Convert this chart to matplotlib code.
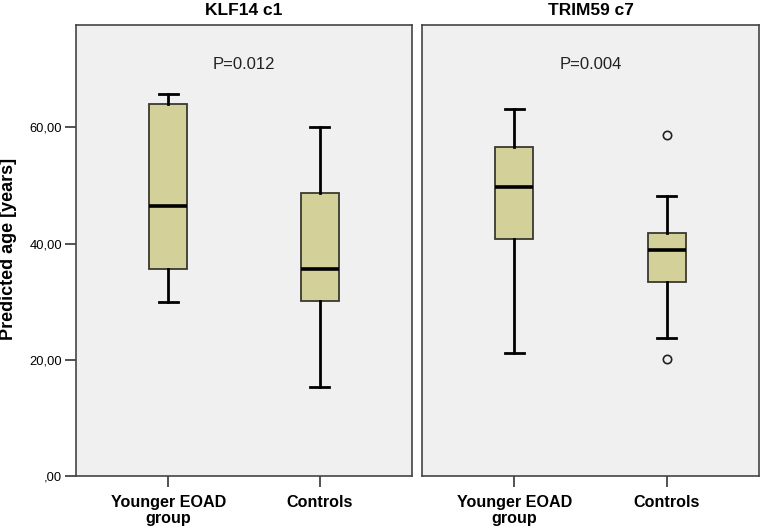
import matplotlib
matplotlib.use("Agg")
import matplotlib.pyplot as plt

plt.rcParams['font.family'] = ['Liberation Sans', 'DejaVu Sans']

panels = ["KLF14 c1", "TRIM59 c7"]
p_values = ["P=0.012", "P=0.004"]
groups = ["Younger EOAD\ngroup", "Controls"]

# per panel: [Younger EOAD, Controls]
whislo = [[30.0, 15.3], [21.1, 23.7]]
q1 = [[35.6, 30.1], [40.8, 33.3]]
med = [[46.5, 35.7], [49.8, 38.9]]
q3 = [[64.0, 48.7], [56.6, 41.8]]
whishi = [[65.7, 60.1], [63.2, 48.1]]
fliers = [[[], []], [[], [58.6, 20.1]]]

yticks = [0, 20, 40, 60]
ytick_labels = [",00", "20,00", "40,00", "60,00"]

fig = plt.figure(figsize=(7.61, 5.26), dpi=100)
fig.patch.set_facecolor("white")
axes = [fig.add_axes([0.0999, 0.0951, 0.4415, 0.8583]),
        fig.add_axes([0.5545, 0.0951, 0.4428, 0.8583])]

box_fill = "#D4D09A"
for i, ax in enumerate(axes):
    ax.set_facecolor("#F0F0F0")
    stats = []
    for j in range(2):
        stats.append(dict(med=med[i][j], q1=q1[i][j], q3=q3[i][j],
                          whislo=whislo[i][j], whishi=whishi[i][j],
                          fliers=fliers[i][j]))
    ax.bxp(stats, positions=[1, 2], widths=0.25, patch_artist=True,
           boxprops=dict(facecolor=box_fill, edgecolor="#3a3a30", linewidth=1.3),
           medianprops=dict(color="black", linewidth=2.6),
           whiskerprops=dict(color="black", linewidth=2.0),
           capprops=dict(color="black", linewidth=2.0),
           capwidths=0.125,
           flierprops=dict(marker="o", markerfacecolor="none",
                           markeredgecolor="#222222", markersize=6,
                           markeredgewidth=1.2))
    ax.set_xlim(0.393, 2.607)
    ax.set_ylim(0, 77.7)
    for s in ax.spines.values():
        s.set_color("#444444")
        s.set_linewidth(1.2)
    ax.set_xticks([1, 2])
    ax.set_xticklabels(groups, fontsize=11.6, fontweight="bold",
                       linespacing=1.05)
    ax.tick_params(axis="x", length=8, width=1.3, color="#444444", pad=6)
    ax.set_title(panels[i], fontsize=12.5, fontweight="bold", pad=7)
    ax.text(0.5, 0.912, p_values[i], transform=ax.transAxes,
            ha="center", va="center", fontsize=12, color="#222222")
    if i == 0:
        ax.set_yticks(yticks)
        ax.set_yticklabels(ytick_labels, fontsize=9.3)
        ax.tick_params(axis="y", length=8, width=1.3, color="#444444", pad=2)
    else:
        ax.set_yticks([])

fig.text(9 / 761, 1 - 248.5 / 526, "Predicted age [years]", rotation=90,
         ha="center", va="center", fontsize=13, fontweight="bold")

fig.savefig("out.png", dpi=100)
